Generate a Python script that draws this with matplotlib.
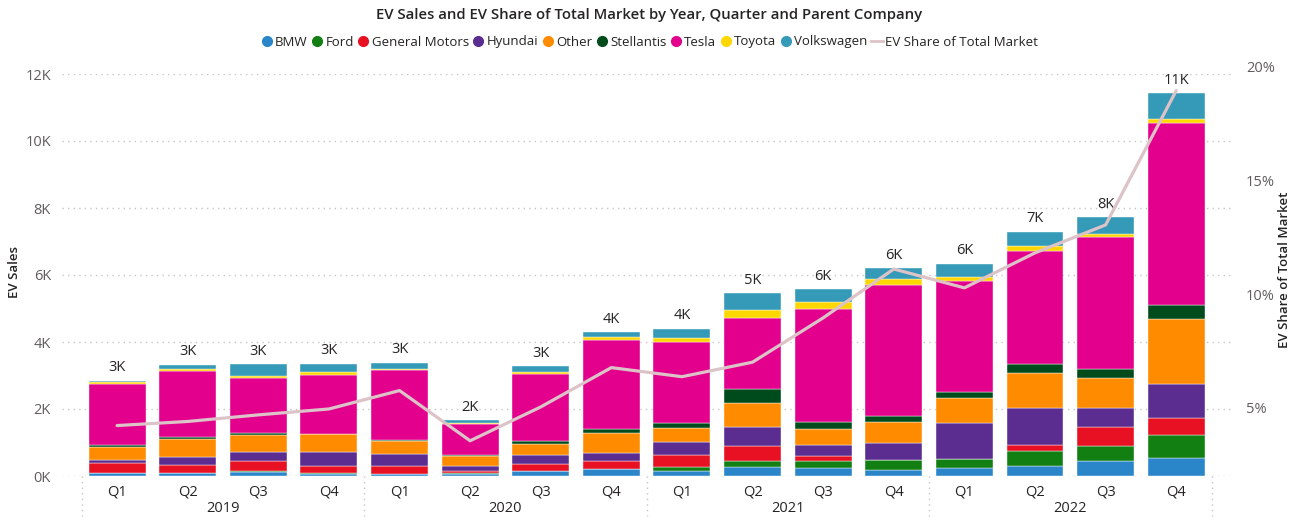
import matplotlib
matplotlib.use('Agg')
import matplotlib.pyplot as plt
import matplotlib.transforms as mtransforms
from matplotlib.lines import Line2D
from matplotlib.ticker import FuncFormatter
import numpy as np

plt.rcParams['font.family'] = ['Open Sans', 'DejaVu Sans']

# data (units sold), Q1 2019 .. Q4 2022
quarters = ['Q1', 'Q2', 'Q3', 'Q4'] * 4
years = ['2019', '2020', '2021', '2022']
companies = ['BMW', 'Ford', 'General Motors', 'Hyundai', 'Other',
             'Stellantis', 'Tesla', 'Toyota', 'Volkswagen']

bmw = [80, 80, 120, 70, 50, 60, 140, 210, 150, 260, 230, 180, 230, 300, 450, 550]
ford = [20, 15, 30, 30, 15, 20, 20, 10, 130, 190, 230, 290, 270, 450, 460, 660]
gm = [300, 225, 290, 200, 220, 80, 210, 230, 360, 450, 140, 20, 20, 180, 540, 530]
hyundai = [70, 260, 290, 420, 370, 150, 270, 250, 380, 570, 340, 510, 1060, 1110, 590, 1010]
other = [400, 530, 480, 520, 390, 280, 320, 570, 410, 720, 460, 600, 750, 1040, 880, 1940]
stellantis = [45, 60, 70, 15, 40, 30, 75, 125, 150, 420, 200, 200, 170, 250, 280, 400]
tesla = [1840, 1960, 1650, 1750, 2080, 920, 2010, 2650, 2430, 2110, 3380, 3900, 3320, 3400, 3940, 5450]
toyota = [45, 60, 70, 100, 40, 40, 50, 90, 110, 250, 200, 170, 130, 150, 90, 120]
volkswagen = [50, 130, 330, 250, 180, 80, 180, 150, 280, 490, 400, 330, 380, 410, 490, 770]

ev_share = [4.22, 4.40, 4.69, 4.95, 5.76, 3.55, 5.04, 6.77,
            6.37, 7.01, 8.96, 11.11, 10.28, 11.82, 13.05, 18.96]

series = [bmw, ford, gm, hyundai, other, stellantis, tesla, toyota, volkswagen]
colors = ['#2B85C9', '#127F12', '#E81123', '#5C2D91', '#FF8C00',
          '#004B1C', '#E3008C', '#FFD700', '#3599B8']
line_color = '#DCC3C8'
text_dark = '#252423'
text_gray = '#605E5C'

W, H = 1299, 520
fig = plt.figure(figsize=(W / 100, H / 100), dpi=100)
ax = fig.add_axes([62 / W, 44 / H, 1170 / W, 402 / H])

x = np.arange(len(quarters))
bottom = np.zeros(len(x))
for name, vals, c in zip(companies, series, colors):
    ax.bar(x, vals, 0.807, bottom=bottom, color=c, edgecolor='#ffffff',
           linewidth=0.3, zorder=2)
    bottom += np.array(vals)

for xi, t in zip(x, bottom):
    ax.annotate(f'{t / 1000:.0f}K', (xi, t), xytext=(0, 4), textcoords='offset points',
                ha='center', va='bottom', fontsize=10.5, color=text_dark)

ax.set_xlim(-0.78, 15.79)
ax.set_ylim(0, 12000)
ax.set_yticks(np.arange(0, 12001, 2000))
ax.yaxis.set_major_formatter(FuncFormatter(lambda v, p: f'{v / 1000:.0f}K'))
ax.grid(axis='y', color='#C8C6C4', linestyle=(0, (1, 3)), linewidth=1)
ax.set_axisbelow(True)
for s in ax.spines.values():
    s.set_visible(False)
ax.tick_params(axis='both', length=0, labelsize=10.5, colors=text_gray)
ax.tick_params(axis='y', pad=8)
ax.tick_params(axis='x', pad=6, labelcolor=text_dark)
ax.set_xticks(x)
ax.set_xticklabels(quarters)

# year labels and separators
trans = mtransforms.blended_transform_factory(ax.transData, ax.transAxes)
for i, yr in enumerate(years):
    ax.text(i * 4 + 1.5, -0.08, yr, transform=trans, ha='center', va='center',
            fontsize=10.5, color=text_dark)
for sx in [-0.5, 3.5, 7.5, 11.5, 15.5]:
    ax.plot([sx, sx], [0, -0.1], transform=trans, color='#C8C6C4',
            linestyle=(0, (1, 3)), linewidth=1, clip_on=False)

# share line on its own axis (2% .. 20%)
ax2 = fig.add_axes([62 / W, 44 / H, 1170 / W, 409 / H])
ax2.patch.set_visible(False)
ax2.plot(x, ev_share, color=line_color, linewidth=2.3, solid_capstyle='round', zorder=3)
ax2.set_xlim(-0.78, 15.79)
ax2.set_ylim(2.0, 20.0)
ax2.set_yticks([5, 10, 15, 20])
ax2.set_yticklabels(['5%', '10%', '15%', '20%'])
ax2.yaxis.tick_right()
ax2.set_xticks([])
for s in ax2.spines.values():
    s.set_visible(False)
ax2.tick_params(axis='y', length=0, labelsize=10.5, colors=text_gray, pad=10)

# titles
fig.text(0.5, 1 - 15 / H, 'EV Sales and EV Share of Total Market by Year, Quarter and Parent Company',
         ha='center', va='center', fontsize=10.7, fontweight='semibold', color=text_dark)
fig.text(15 / W, 1 - 272 / H, 'EV Sales', rotation=90, ha='center', va='center',
         fontsize=9.5, fontweight='semibold', color=text_dark)
fig.text(1285 / W, 1 - 270 / H, 'EV Share of Total Market', rotation=90, ha='center',
         va='center', fontsize=9.5, fontweight='semibold', color=text_dark)

handles = [Line2D([], [], marker='o', linestyle='', color=c, markersize=7) for c in colors]
handles.append(Line2D([], [], color=line_color, linewidth=2))
labels = companies + ['EV Share of Total Market']
fig.legend(handles, labels, loc='center', bbox_to_anchor=(0.5, 1 - 42 / H), ncol=10,
           frameon=False, fontsize=9.5, handletextpad=0.2, columnspacing=0.25,
           handlelength=0.9, labelcolor=text_dark)

fig.savefig('out.png', dpi=100)
